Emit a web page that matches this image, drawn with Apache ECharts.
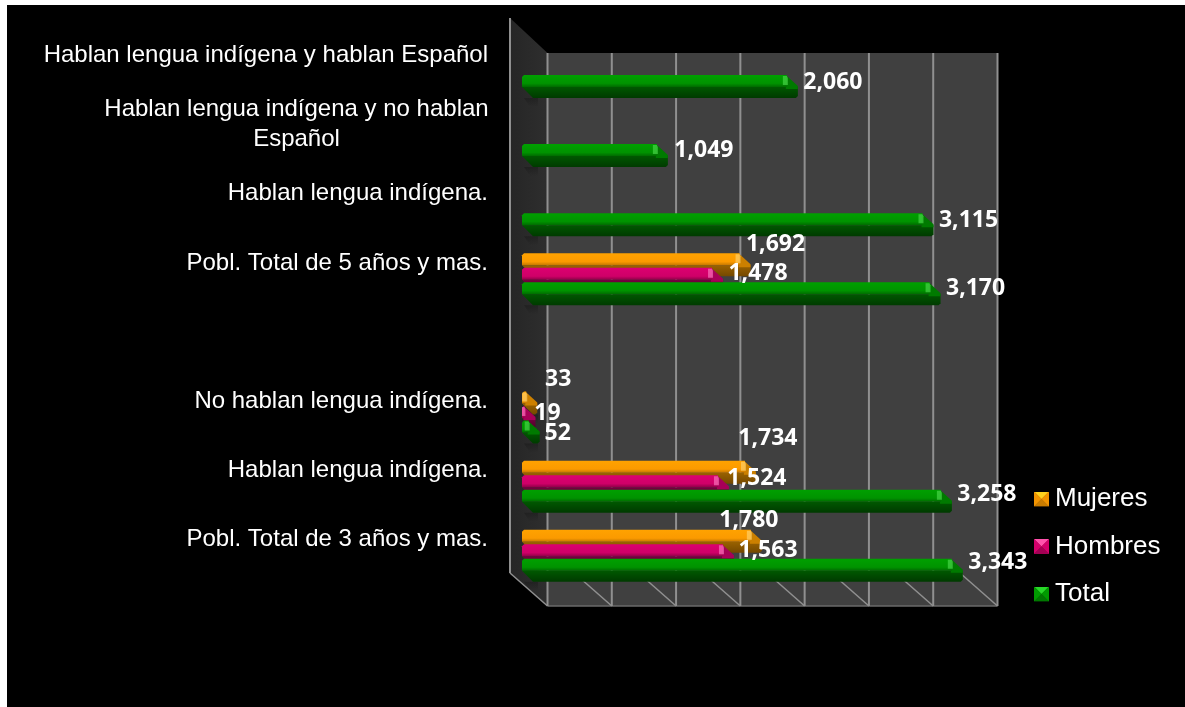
<!DOCTYPE html>
<html><head><meta charset="utf-8">
<style>html,body{margin:0;padding:0;background:#fff}#main{width:1185px;height:707px}</style>
<script src="https://cdn.jsdelivr.net/npm/echarts@6/dist/echarts.min.js"></script>
</head><body><div id="main"></div>
<script>
const categories = ['Hablan lengua indígena y hablan Español','Hablan lengua indígena y no hablan Español','Hablan lengua indígena.','Pobl. Total de 5 años y mas.','','No hablan lengua indígena.','Hablan lengua indígena.','Pobl. Total de 3 años y mas.'];
const total   = [2060,1049,3115,3170,null,52,3258,3343];
const hombres = [null,null,null,1478,null,19,1524,1563];
const mujeres = [null,null,null,1692,null,33,1734,1780];
const xTicks  = [0,500,1000,1500,2000,2500,3000,3500];

// hand-placed value label nudges (dx, dy from the bar's end), as in the source chart
const nudgeTotal   = [[35,7],[36,6],[35,7],[35,6],null,[18,13],[35,5],[35,4]];
const nudgeHombres = [null,null,null,[35,6],null,[12,7],[28,3],[34,6]];
const nudgeMujeres = [null,null,null,[25,-9],null,[21,-12],[12,-22],[-13,-9]];

const GRID = {left:510, top:18, width:450, height:553};
const LABEL_FONT = 'Liberation Sans, Arial, sans-serif';
const VALUE_FONT = '"Open Sans", sans-serif';

function grad(stops){return {type:'linear',x:0,y:0,x2:0,y2:1,colorStops:stops.map(c=>({offset:c[0],color:c[1]}))};}

const palettes = {
  Total:  {top:[[0,'#00a000'],[0.7,'#009300'],[1,'#006a00']], front:[[0,'#005800'],[1,'#003a00']], spot:'rgba(90,230,90,0.55)', end:'#007a00'},
  Hombres:{top:[[0,'#dc0070'],[0.7,'#cf0068'],[1,'#8f0048']], front:[[0,'#760040'],[1,'#4a0028']], spot:'rgba(255,130,200,0.6)', end:'#a80058'},
  Mujeres:{top:[[0,'#ffa200'],[0.7,'#fb9a00'],[1,'#c27600']], front:[[0,'#9a6200'],[1,'#744800']], spot:'rgba(255,215,120,0.6)', end:'#cc8000'}
};

function barSeries(name, values, nudges, rowOffset){
  const p = palettes[name];
  return {
    name, type:'custom', coordinateSystem:'cartesian2d', z:3, clip:false,
    data: values.map((v,i)=>v==null?null:[v,i]).filter(Boolean),
    encode:{x:0,y:1},
    renderItem(params, api){
      const v = api.value(0), i = api.value(1);
      const end = api.coord([v,i]);
      const x0 = api.coord([0,i])[0] + 12;
      const L = end[0] - api.coord([0,i])[0];
      const T = end[1] + rowOffset;
      const topEnd = x0 + L, frontEnd = topEnd + 11;
      const n = nudges[i] || [35,6];
      return {type:'group', children:[
        {type:'polygon', z2:0, shape:{points:[[x0+2,T+23],[x0+16,T+23],[x0+16,T+32],[x0+8,T+32]]},
          style:{fill:grad([[0,'rgba(0,0,0,0.22)'],[1,'rgba(0,0,0,0)']])}},
        {type:'polygon', z2:1, shape:{points:[[x0,T+12],[frontEnd,T+12],[frontEnd,T+21],[frontEnd-2,T+23],[x0+11,T+23]]},
          style:{fill:grad(p.front)}},
        {type:'polygon', z2:2, shape:{points:[[topEnd-1,T],[frontEnd,T+11],[frontEnd,T+14],[topEnd-1,T+14]]},
          style:{fill:p.end}},
        {type:'polygon', z2:3, shape:{points:[[x0+2,T],[topEnd,T],[topEnd,T+12],[x0,T+12],[x0,T+2]]},
          style:{fill:grad(p.top)}},
        {type:'polygon', z2:4, shape:{points:[[Math.max(x0,topEnd-4),T+1],[topEnd,T+1],[topEnd+1,T+3],[topEnd+1,T+10],[Math.max(x0,topEnd-4),T+10]]},
          style:{fill:p.spot}},
        {type:'text', z2:100, x:frontEnd+n[0], y:T+n[1],
          style:{text:v.toLocaleString('en-US'), fill:'#fff', font:'bold 23px '+VALUE_FONT, align:'center', verticalAlign:'middle'}}
      ]};
    }
  };
}

const wallSeries = {
  type:'custom', coordinateSystem:'cartesian2d', z:1, clip:false, silent:true,
  data: xTicks.map(t=>[t,0]), encode:{x:0,y:1},
  renderItem(params, api){
    const cs = params.coordSys, x = api.coord([api.value(0),0])[0];
    const dx = 37.5, topB = cs.y+35, botF = cs.y+cs.height+2, botB = botF+33;
    const line = '#909090';
    const kids = [];
    if(api.value(0)===0){
      kids.push({type:'rect', z2:0, shape:{x:cs.x+dx,y:topB,width:cs.width,height:botB-topB}, style:{fill:'#404040'}});
      kids.push({type:'polygon', z2:0, shape:{points:[[cs.x,cs.y],[cs.x+dx,topB],[cs.x+dx,botB],[cs.x,botF]]},
        style:{fill:{type:'linear',x:0,y:0,x2:1,y2:0,colorStops:[{offset:0,color:'#262626'},{offset:1,color:'#2e2e2e'}]}}});
      kids.push({type:'line', z2:1, shape:{x1:cs.x,y1:cs.y,x2:cs.x,y2:botF}, style:{stroke:line,lineWidth:2}});
      kids.push({type:'line', z2:1, shape:{x1:cs.x+dx,y1:botB,x2:cs.x+dx+cs.width,y2:botB}, style:{stroke:'#6a6a6a',lineWidth:1.5}});
    }
    kids.push({type:'line', z2:1, shape:{x1:x+dx,y1:topB,x2:x+dx,y2:botB}, style:{stroke:line,lineWidth:2}});
    kids.push({type:'line', z2:1, shape:{x1:x,y1:botF,x2:x+dx,y2:botB}, style:{stroke:line,lineWidth:1.5}});
    return {type:'group',children:kids};
  }
};

function pyramid(c){
  const svg = `<svg xmlns="http://www.w3.org/2000/svg" width="15" height="15">`+
   `<rect width="15" height="15" fill="${c[2]}"/>`+
   `<polygon points="0,0 15,0 7.5,7.5" fill="${c[0]}"/>`+
   `<polygon points="0,0 7.5,7.5 0,15" fill="${c[1]}"/>`+
   `<polygon points="15,0 7.5,7.5 15,15" fill="${c[1]}"/>`+
   `<polygon points="0,15 15,15 7.5,7.5" fill="${c[3]}"/></svg>`;
  return 'image://data:image/svg+xml;charset=utf-8,'+encodeURIComponent(svg);
}

const chart = echarts.init(document.getElementById('main'), null, {renderer:'canvas'});
chart.setOption({
  animation:false,
  backgroundColor:'#fff',
  graphic:[{type:'rect', silent:true, z:-1, shape:{x:7,y:5,width:1178,height:702}, style:{fill:'#000'}}],
  grid:{left:GRID.left, top:GRID.top, width:GRID.width, height:GRID.height, containLabel:false},
  xAxis:{type:'value', min:0, max:3500, interval:500, axisLabel:{show:false}, axisLine:{show:false}, axisTick:{show:false}, splitLine:{show:false}},
  yAxis:{type:'category', inverse:true, data:categories,
    axisLine:{show:false}, axisTick:{show:false}, splitLine:{show:false},
    axisLabel:{color:'#fff', fontFamily:LABEL_FONT, fontSize:24, margin:22, align:'right', lineHeight:30, interval:0, padding:[6,0,0,0],
      formatter(v){
        const long = 'Hablan lengua indígena y no hablan';
        if(v.startsWith(long)) return '{c|'+long+'}\n{c|'+v.slice(long.length+1)+'}';
        return v;
      },
      rich:{c:{color:'#fff',fontFamily:LABEL_FONT,fontSize:24,lineHeight:30,width:383,align:'center'}}
    }},
  legend:{orient:'vertical', left:1029, top:481, itemWidth:15, itemHeight:15, itemGap:21.5, selectedMode:false,
    textStyle:{color:'#fff', fontFamily:LABEL_FONT, fontSize:26, padding:[0,0,0,1]},
    data:[
      {name:'Mujeres', icon:pyramid(['#ffd21e','#f29400','#a86400','#c97c00'])},
      {name:'Hombres', icon:pyramid(['#ff52ac','#d4006c','#800040','#a30054'])},
      {name:'Total',   icon:pyramid(['#28d828','#009a00','#005800','#007800'])}
    ]},
  series:[ wallSeries,
    barSeries('Mujeres', mujeres, nudgeMujeres, -6.6),
    barSeries('Hombres', hombres, nudgeHombres, 7.9),
    barSeries('Total',   total,   nudgeTotal,   22.4)
  ]
});
</script></body></html>
